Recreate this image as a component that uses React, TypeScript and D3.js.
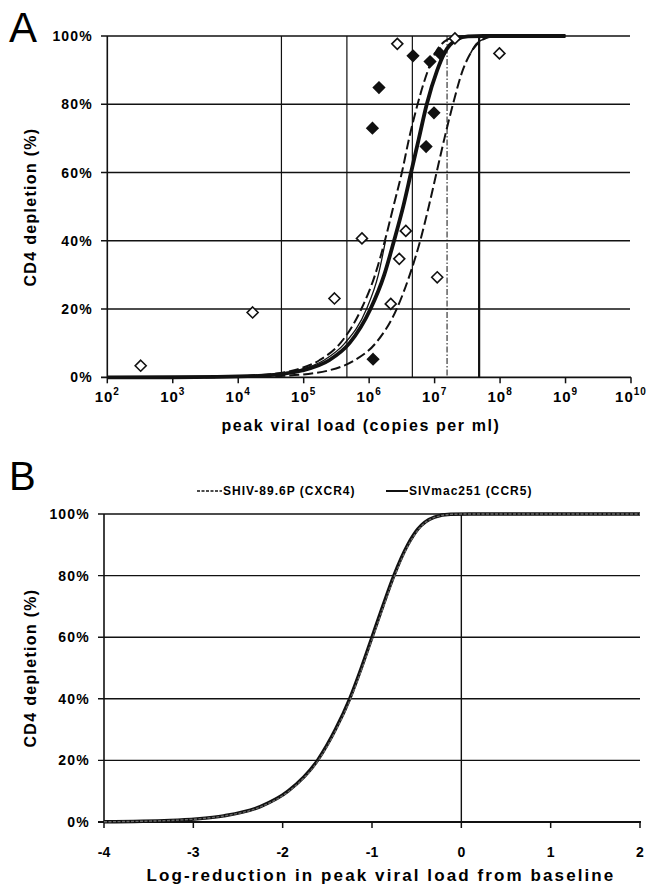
import React from "react";
import * as d3 from "d3";

// ---- panel A data (x values are log10 copies per ml, y values are % depletion)
const pctTicks = [0, 20, 40, 60, 80, 100];
const decades = [2, 3, 4, 5, 6, 7, 8, 9, 10];
const thinRefLines = [4.66, 5.66, 6.66];
const boldRefLine = 7.68;
const dashDotRefLine = 7.19;

const openDiamonds: [number, number][] = [
  [2.51, 3.4], [4.22, 19.0], [5.47, 23.1], [5.89, 40.7], [6.56, 42.9],
  [6.46, 34.7], [6.33, 21.5], [7.04, 29.3], [6.43, 97.7], [7.31, 99.3], [7.99, 94.9],
];
const filledDiamonds: [number, number][] = [
  [6.67, 94.2], [6.93, 92.5], [7.08, 94.9], [6.15, 84.9], [6.05, 73.0],
  [6.99, 77.5], [6.87, 67.6], [6.06, 5.3],
];

const fitCurve: [number, number][] = [
  [2.0, 0], [3.0, 0.02], [3.68, 0.1], [4.38, 0.5], [4.68, 1], [4.98, 2], [5.39, 5],
  [5.70, 10], [6.02, 20], [6.23, 30], [6.38, 40], [6.52, 50], [6.64, 60], [6.76, 70],
  [6.88, 80], [7.04, 90], [7.15, 95], [7.34, 99], [7.51, 99.9], [7.74, 100], [9.0, 100],
];
const lowerBound: [number, number][] = [
  [2.0, 0], [3.0, 0.03], [3.54, 0.1], [4.23, 0.5], [4.54, 1], [4.84, 2], [5.24, 5],
  [5.56, 10], [5.88, 20], [6.09, 30], [6.24, 40], [6.37, 50], [6.50, 60], [6.61, 70],
  [6.74, 80], [6.90, 90], [7.01, 95], [7.20, 99], [7.37, 99.9], [7.60, 100], [9.0, 100],
];
const upperBound: [number, number][] = [
  [2.0, 0], [3.0, 0.01], [4.07, 0.1], [4.77, 0.5], [5.07, 1], [5.38, 2], [5.78, 5],
  [6.10, 10], [6.42, 20], [6.62, 30], [6.78, 40], [6.91, 50], [7.03, 60], [7.15, 70],
  [7.28, 80], [7.43, 90], [7.55, 95], [7.74, 99], [7.91, 99.9], [8.14, 100], [9.0, 100],
];
const upperBoundTop: [number, number][] = [
  [7.55, 95], [7.63, 97.6], [7.74, 99], [7.91, 99.9], [8.14, 100], [9.0, 100],
];
const thinCurve: [number, number][] = [
  [2.0, 0], [3.0, 0.02], [3.6, 0.1], [4.3, 0.5], [4.6, 1], [4.9, 2], [5.31, 5],
  [5.63, 10], [5.96, 20], [6.14, 30], [6.25, 40],
];

// ---- panel B data (log-reduction vs % depletion)
const reductionTicks = [-4, -3, -2, -1, 0, 1, 2];
const ccr5Curve: [number, number][] = [
  [-4.0, 0.09], [-3.26, 0.5], [-2.96, 1], [-2.66, 2], [-2.25, 5], [-1.94, 10],
  [-1.61, 20], [-1.41, 30], [-1.25, 40], [-1.12, 50], [-1.0, 60], [-0.88, 70],
  [-0.755, 80], [-0.6, 90], [-0.49, 95], [-0.3, 99], [-0.12, 99.9], [0.1, 100], [2.0, 100],
];
const cxcr4Curve: [number, number][] = [
  [-4.0, 0.08], [-3.25, 0.5], [-2.95, 1], [-2.65, 2], [-2.24, 5], [-1.93, 10],
  [-1.60, 20], [-1.40, 30], [-1.24, 40], [-1.11, 50], [-0.99, 60], [-0.87, 70],
  [-0.745, 80], [-0.59, 90], [-0.48, 95], [-0.29, 99], [-0.11, 99.9], [0.1, 100], [2.0, 100],
];

const FONT = "'Liberation Sans Narrow', 'Liberation Sans', Arial, sans-serif";
const INK = "#111";

const Diamond = ({ x, y, filled }: { x: number; y: number; filled: boolean }) => (
  <path
    d={`M${x},${y - 5.5}L${x + 5.5},${y}L${x},${y + 5.5}L${x - 5.5},${y}Z`}
    fill={filled ? INK : "#fff"}
    stroke={INK}
    strokeWidth={1.6}
  />
);

const PanelA = () => {
  const x = d3.scaleLinear().domain([2, 10]).range([107.3, 631]);
  const y = d3.scaleLinear().domain([0, 100]).range([377.3, 36]);
  const line = d3
    .line<[number, number]>()
    .x((d) => x(d[0]))
    .y((d) => y(d[1]))
    .curve(d3.curveMonotoneX);

  return (
    <g>
      <text x={9} y={42} fontFamily="'Liberation Sans', Arial, sans-serif" fontSize={42}>A</text>

      {/* horizontal gridlines + y ticks */}
      {pctTicks.map((t) => (
        <g key={t}>
          <line x1={101} x2={t === 0 ? 631 : 630} y1={y(t)} y2={y(t)} stroke={INK} strokeWidth={t === 0 ? 1.8 : 1.4} />
          <text x={93} y={y(t) + 5} textAnchor="end" fontFamily={FONT} fontWeight="bold" fontSize={14} letterSpacing={1.2}>
            {t}%
          </text>
        </g>
      ))}
      <line x1={x(2)} x2={x(2)} y1={y(100)} y2={y(0)} stroke={INK} strokeWidth={1.6} />

      {/* vertical reference lines */}
      {thinRefLines.map((v) => (
        <line key={v} x1={x(v)} x2={x(v)} y1={y(100)} y2={y(0)} stroke={INK} strokeWidth={1.2} />
      ))}
      <line x1={x(boldRefLine)} x2={x(boldRefLine)} y1={y(100)} y2={y(0)} stroke={INK} strokeWidth={2.2} />
      <line x1={x(dashDotRefLine)} x2={x(dashDotRefLine)} y1={y(100)} y2={y(0)} stroke={INK} strokeWidth={1} strokeDasharray="6,2,1.5,2" />

      {/* bottom ticks + labels */}
      {decades.map((d) => (
        <g key={d}>
          <line x1={x(d)} x2={x(d)} y1={y(0)} y2={y(0) + 6} stroke={INK} strokeWidth={1.5} />
          <text x={x(d)} y={402} textAnchor="middle" fontFamily={FONT} fontWeight="bold" fontSize={15} letterSpacing={1}>
            10
            <tspan dy={-7} fontSize={10}>{d}</tspan>
          </text>
        </g>
      ))}

      {/* curves */}
      <path d={line(thinCurve) ?? ""} fill="none" stroke={INK} strokeWidth={1.3} />
      <path d={line(lowerBound) ?? ""} fill="none" stroke={INK} strokeWidth={2} strokeDasharray="10,4" />
      <path d={line(upperBound) ?? ""} fill="none" stroke={INK} strokeWidth={2} strokeDasharray="10,4" />
      <path d={line(upperBoundTop) ?? ""} fill="none" stroke={INK} strokeWidth={1.5} />
      <path d={line(fitCurve) ?? ""} fill="none" stroke={INK} strokeWidth={3.8} />

      {/* data points */}
      {openDiamonds.map((p, i) => (
        <Diamond key={"o" + i} x={x(p[0])} y={y(p[1])} filled={false} />
      ))}
      {filledDiamonds.map((p, i) => (
        <Diamond key={"f" + i} x={x(p[0])} y={y(p[1])} filled />
      ))}

      <text x={32} y={207} transform="rotate(-90 32 207)" textAnchor="middle" dominantBaseline="middle"
        fontFamily={FONT} fontWeight="bold" fontSize={16} letterSpacing={1.3}>
        CD4 depletion (%)
      </text>
      <text x={361} y={431} textAnchor="middle" fontFamily={FONT} fontWeight="bold" fontSize={16} letterSpacing={1.6}>
        peak viral load (copies per ml)
      </text>
    </g>
  );
};

const PanelB = () => {
  const x = d3.scaleLinear().domain([-4, 2]).range([104, 640]);
  const y = d3.scaleLinear().domain([0, 100]).range([822, 514]);
  const line = d3
    .line<[number, number]>()
    .x((d) => x(d[0]))
    .y((d) => y(d[1]))
    .curve(d3.curveMonotoneX);

  return (
    <g>
      <text x={9} y={490} fontFamily="'Liberation Sans', Arial, sans-serif" fontSize={40}>B</text>

      {/* legend */}
      <line x1={197} x2={222} y1={491} y2={491} stroke={INK} strokeWidth={1.6} strokeDasharray="3,1.5" />
      <text x={223} y={495} fontFamily={FONT} fontWeight="bold" fontSize={12} letterSpacing={1}>SHIV-89.6P (CXCR4)</text>
      <line x1={386} x2={408} y1={491} y2={491} stroke={INK} strokeWidth={2} />
      <text x={409} y={495} fontFamily={FONT} fontWeight="bold" fontSize={12} letterSpacing={1}>SIVmac251 (CCR5)</text>

      {pctTicks.map((t) => (
        <g key={t}>
          <line x1={98} x2={t === 0 ? 641 : 640} y1={y(t)} y2={y(t)} stroke={INK} strokeWidth={t === 0 ? 1.8 : 1.4} />
          <text x={90} y={y(t) + 5} textAnchor="end" fontFamily={FONT} fontWeight="bold" fontSize={14} letterSpacing={1.2}>
            {t}%
          </text>
        </g>
      ))}
      <line x1={x(-4)} x2={x(-4)} y1={y(100)} y2={y(0)} stroke={INK} strokeWidth={1.6} />
      <line x1={x(0)} x2={x(0)} y1={y(100)} y2={y(0)} stroke={INK} strokeWidth={1.4} />

      {reductionTicks.map((t) => (
        <g key={t}>
          <line x1={x(t)} x2={x(t)} y1={y(0)} y2={y(0) + 6} stroke={INK} strokeWidth={1.5} />
          <text x={x(t)} y={857} textAnchor="middle" fontFamily={FONT} fontWeight="bold" fontSize={14}>
            {t}
          </text>
        </g>
      ))}

      <path d={line(ccr5Curve) ?? ""} fill="none" stroke={INK} strokeWidth={3.4} />
      <path d={line(cxcr4Curve) ?? ""} fill="none" stroke="#666" strokeWidth={1.4} strokeDasharray="3,1.5" />

      <text x={32} y={668} transform="rotate(-90 32 668)" textAnchor="middle" dominantBaseline="middle"
        fontFamily={FONT} fontWeight="bold" fontSize={16} letterSpacing={1.3}>
        CD4 depletion (%)
      </text>
      <text x={381} y={881} textAnchor="middle" fontFamily={FONT} fontWeight="bold" fontSize={17} letterSpacing={2.1}>
        Log-reduction in peak viral load from baseline
      </text>
    </g>
  );
};

export default function App() {
  return (
    <svg width={648} height={885} style={{ position: "absolute", left: 0, top: 0, background: "#fff" }}>
      <rect width={648} height={885} fill="#fff" />
      <PanelA />
      <PanelB />
    </svg>
  );
}
